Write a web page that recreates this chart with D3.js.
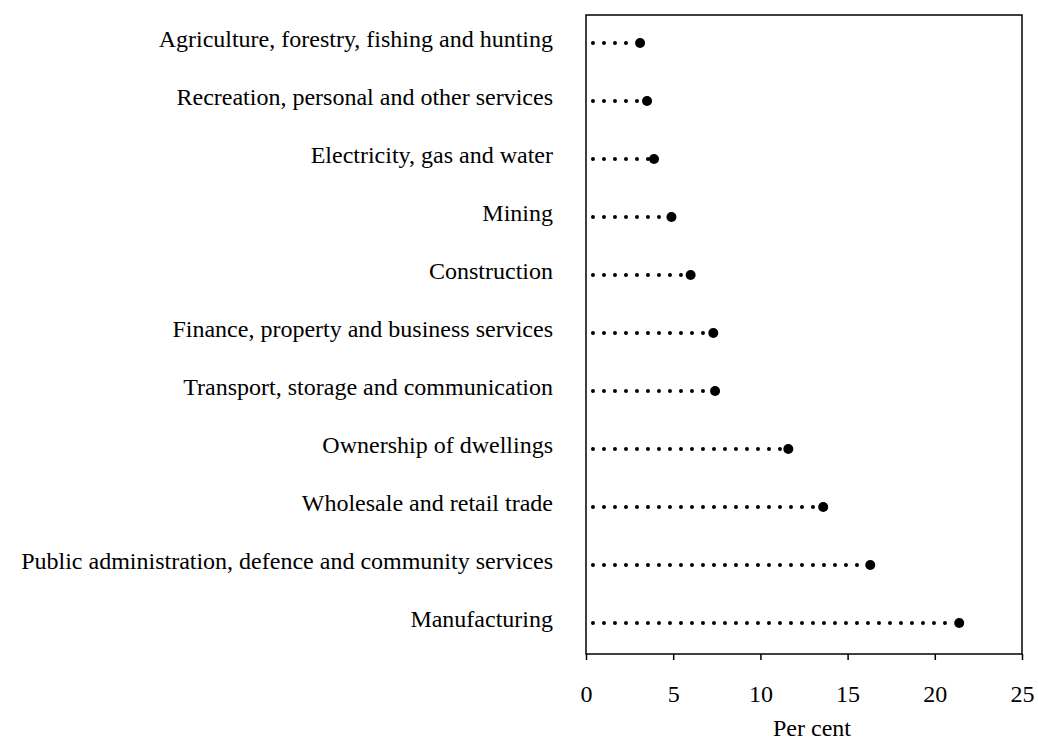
<html>
<head>
<script src="https://d3js.org/d3.v7.min.js"></script>
<style>
body {
    margin: 0;
    padding: 0;
    background: #fff;
}
svg {
    font-family: "Liberation Serif", "Times New Roman", serif;
}
.axis path, .axis line {
    stroke: #000;
    stroke-width: 1.5;
}
.axis text {
    font-family: "Liberation Serif", serif;
    font-size: 24px;
    fill: #000;
}
</style>
</head>
<body>
<script>
// industries, top to bottom
var industries = [
    "Agriculture, forestry, fishing and hunting",
    "Recreation, personal and other services",
    "Electricity, gas and water",
    "Mining",
    "Construction",
    "Finance, property and business services",
    "Transport, storage and communication",
    "Ownership of dwellings",
    "Wholesale and retail trade",
    "Public administration, defence and community services",
    "Manufacturing"
];
// per cent values
var shares = [3.1, 3.5, 3.9, 4.9, 6.0, 7.3, 7.4, 11.6, 13.6, 16.3, 21.4];
var xTicks = [0, 5, 10, 15, 20, 25];

var margin = {top: 15, right: 16, bottom: 89, left: 586};
var width = 1038 - margin.left - margin.right;
var height = 743 - margin.top - margin.bottom;

var x = d3.scaleLinear().domain([0, 25]).range([0, width]);
var y = d3.scalePoint().domain(industries).range([28, 608]);

var data = industries.map(function (d, i) {
    return {name: d, value: shares[i]};
});

var svg = d3.select("body")
    .append("svg")
    .attr("width", 1038)
    .attr("height", 743)
    .append("g")
    .attr("transform", "translate(" + margin.left + "," + margin.top + ")");

// frame
svg.append("rect")
    .attr("x", 0)
    .attr("y", 0)
    .attr("width", width)
    .attr("height", height)
    .attr("fill", "none")
    .attr("stroke", "#000")
    .attr("stroke-width", 1.5);

// x axis
svg.append("g")
    .attr("class", "axis")
    .attr("transform", "translate(0," + height + ")")
    .call(d3.axisBottom(x).tickValues(xTicks).tickSize(6).tickPadding(25))
    .call(function (g) { g.select(".domain").remove(); });

svg.append("text")
    .attr("x", 226)
    .attr("y", height + 82)
    .attr("text-anchor", "middle")
    .style("font-size", "24px")
    .text("Per cent");

// labels
svg.selectAll(".label")
    .data(data)
    .enter()
    .append("text")
    .attr("class", "label")
    .attr("x", -33)
    .attr("y", function (d) { return y(d.name) + 4; })
    .attr("text-anchor", "end")
    .style("font-size", "24px")
    .text(function (d) { return d.name; });

// dotted leaders
svg.selectAll(".leader")
    .data(data)
    .enter()
    .append("line")
    .attr("class", "leader")
    .attr("x1", x(0.4))
    .attr("x2", function (d) { return x(d.value) - 4; })
    .attr("y1", function (d) { return y(d.name); })
    .attr("y2", function (d) { return y(d.name); })
    .attr("stroke", "#000")
    .attr("stroke-width", 4)
    .attr("stroke-linecap", "round")
    .attr("stroke-dasharray", "0 11");

// end dots
svg.selectAll(".dot")
    .data(data)
    .enter()
    .append("circle")
    .attr("class", "dot")
    .attr("cx", function (d) { return x(d.value); })
    .attr("cy", function (d) { return y(d.name); })
    .attr("r", 5)
    .attr("fill", "#000");
</script>
</body>
</html>
